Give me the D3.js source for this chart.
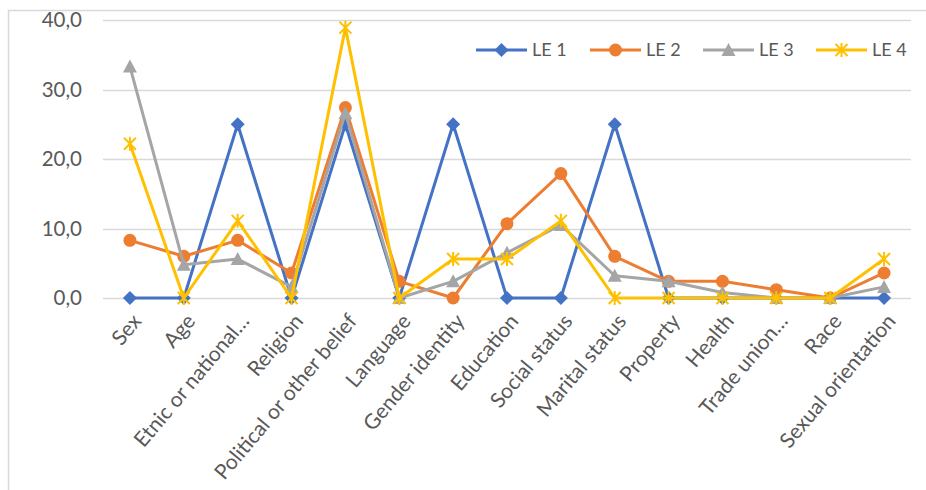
<!DOCTYPE html>
<html>
<head>
<meta charset="utf-8">
<script src="https://cdn.jsdelivr.net/npm/d3@7"></script>
<style>
  html, body { margin: 0; padding: 0; background: #fff; }
  svg { display: block; font-family: Lato, "Open Sans", sans-serif; }
</style>
</head>
<body>
<svg id="chart" width="926" height="490"></svg>
<script>
const categories = ["Sex", "Age", "Etnic or national…", "Religion", "Political or other belief",
  "Language", "Gender identity", "Education", "Social status", "Marital status",
  "Property", "Health", "Trade union…", "Race", "Sexual orientation"];
const seriesNames = ["LE 1", "LE 2", "LE 3", "LE 4"];
const le1 = [0, 0, 25, 0, 25, 0, 25, 0, 0, 25, 0, 0, 0, 0, 0];
const le2 = [8.3, 6.0, 8.3, 3.6, 27.4, 2.4, 0, 10.7, 17.9, 6.0, 2.4, 2.4, 1.2, 0, 3.6];
const le3 = [33.3, 4.8, 5.6, 1.6, 26.6, 0, 2.4, 6.5, 10.5, 3.2, 2.4, 0.8, 0, 0, 1.6];
const le4 = [22.2, 0, 11.1, 0, 38.9, 0, 5.6, 5.6, 11.1, 0, 0, 0, 0, 0, 5.6];
const yTicks = [0, 10, 20, 30, 40];

const colors = ["#4472C4", "#ED7D31", "#A5A5A5", "#FFC000"];
const markerTypes = ["diamond", "circle", "triangle", "star"];
const seriesData = [le1, le2, le3, le4];

const svg = d3.select("#chart");
const textColor = "#595959";

// Frame
svg.append("rect").attr("x", 8.5).attr("y", 10.5).attr("width", 940).attr("height", 500)
  .attr("fill", "none").attr("stroke", "#d9d9d9").attr("stroke-width", 1.5);

const x = d3.scaleBand().domain(categories).range([103, 911]);
const y = d3.scaleLinear().domain([0, 40]).range([298, 20]);
const cx = c => x(c) + x.bandwidth() / 2;

// Gridlines
svg.append("g").selectAll("line").data(yTicks).join("line")
  .attr("x1", 103).attr("x2", 911)
  .attr("y1", d => Math.round(y(d)) + 0.5).attr("y2", d => Math.round(y(d)) + 0.5)
  .attr("stroke", "#d9d9d9").attr("stroke-width", 1.5);

// Y axis labels
const fmt = d => d.toFixed(1).replace(".", ",");
svg.append("g").selectAll("text").data(yTicks).join("text")
  .attr("x", 82).attr("y", d => y(d)).attr("dy", "0.35em")
  .attr("text-anchor", "end").attr("fill", textColor).attr("font-size", 20.5)
  .text(fmt);

// X axis labels
svg.append("g").selectAll("text").data(categories).join("text")
  .attr("transform", c => `translate(${cx(c) + 7},${317}) rotate(-50)`)
  .attr("text-anchor", "end").attr("dy", "0.35em")
  .attr("fill", textColor).attr("font-size", 21)
  .text(c => c);

function drawMarker(g, type, color) {
  if (type === "diamond") {
    g.append("path").attr("d", "M0,-7L7,0L0,7L-7,0Z").attr("fill", color);
  } else if (type === "circle") {
    g.append("circle").attr("r", 6.5).attr("fill", color);
  } else if (type === "triangle") {
    g.append("path").attr("d", "M0,-7L7,6L-7,6Z").attr("fill", color);
  } else if (type === "star") {
    g.append("path").attr("d", "M-6,-6L6,6M-6,6L6,-6M0,-7L0,7")
      .attr("stroke", color).attr("stroke-width", 2).attr("fill", "none");
  }
}

const line = d3.line().x((d, i) => cx(categories[i])).y(d => y(d));

seriesData.forEach((vals, si) => {
  const g = svg.append("g");
  g.append("path").datum(vals).attr("d", line)
    .attr("fill", "none").attr("stroke", colors[si]).attr("stroke-width", 3)
    .attr("stroke-linejoin", "round");
  vals.forEach((v, i) => {
    const mg = g.append("g").attr("transform", `translate(${cx(categories[i])},${y(v)})`);
    drawMarker(mg, markerTypes[si], colors[si]);
  });
});

// Legend
const legendX = [476, 590, 703, 816];
const legendY = 50;
seriesNames.forEach((name, i) => {
  const g = svg.append("g").attr("transform", `translate(${legendX[i]},${legendY})`);
  g.append("line").attr("x1", 0).attr("x2", 51).attr("y1", 0).attr("y2", 0)
    .attr("stroke", colors[i]).attr("stroke-width", 3);
  drawMarker(g.append("g").attr("transform", "translate(25.5,0)"), markerTypes[i], colors[i]);
  g.append("text").attr("x", 56).attr("y", 0).attr("dy", "0.35em")
    .attr("fill", textColor).attr("font-size", 18).text(name);
});
</script>
</body>
</html>
